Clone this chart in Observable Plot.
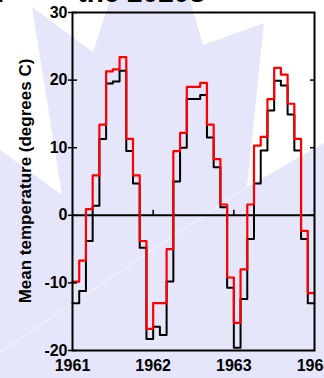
<!DOCTYPE html>
<html><head><meta charset="utf-8">
<script src="https://cdn.jsdelivr.net/npm/d3@7"></script>
<script src="https://cdn.jsdelivr.net/npm/@observablehq/plot@0.6"></script>
<style>
html,body{margin:0;padding:0;background:#fff;width:324px;height:378px;overflow:hidden;}
#wrap{position:relative;width:324px;height:378px;overflow:hidden;}
#bg{position:absolute;left:0;top:0;}
#chart{position:absolute;left:0;top:0;}
#title{position:absolute;left:-30px;top:-21px;white-space:pre;font:bold 28px "Liberation Sans",Arial,sans-serif;color:#000;line-height:1;}
#ylabel{position:absolute;left:25px;top:181px;transform:translate(-50%,-50%) rotate(-90deg);white-space:nowrap;font:bold 17px "Liberation Sans",Arial,sans-serif;color:#000;line-height:1;}
</style></head><body>
<div id="wrap">
<svg id="bg" width="324" height="378">
  <rect width="324" height="378" fill="#e6e6fa"/>
  <polygon points="0,0 110,0 93,52 32,7 62,195 0,150" fill="#fff"/>
  <polygon points="190,0 203,45 264,23 247,187 324,143 324,0" fill="#fff"/>
  <line x1="0" y1="352" x2="247" y2="187" stroke="#fff" stroke-width="0.8" stroke-opacity="0.7"/>
</svg>
<div id="title"></div>
<div id="chart"></div>
<div id="ylabel"></div>
</div>
<script>
const titleText = "for         the 2020s";
const years = [1961, 1962, 1963, 1964];
const innerYearTicks = [1962, 1963];
const yTicks = [-20, -10, 0, 10, 20, 30];
const rightTicks = [0, 10, 20];
const yLabel = "Mean temperature (degrees C)";
// monthly values, Jan 1961 .. Dec 1963
const observed = [-13.0, -11.2, -3.8, 1.4, 11.3, 19.5, 19.8, 21.4, 9.5, 4.7, -4.8, -18.3,
                  -16.5, -17.7, -9.8, 5.0, 10.0, 17.2, 17.2, 17.8, 11.5, 7.1, 1.2, -10.7,
                  -19.6, -12.4, -3.5, 4.7, 9.6, 15.5, 19.9, 19.2, 14.9, 9.6, -3.5, -13.0];
const modelled = [-9.8, -6.7, 0.9, 5.9, 13.4, 21.3, 21.6, 23.4, 11.3, 5.9, -3.8, -16.8,
                  -13.0, -13.0, -5.0, 9.5, 12.2, 19.0, 19.0, 19.6, 13.4, 8.3, 1.6, -9.2,
                  -15.9, -8.0, 1.6, 10.3, 11.6, 17.2, 21.8, 20.8, 16.5, 11.3, -2.3, -11.5];

document.getElementById("title").textContent = titleText;
document.getElementById("ylabel").textContent = yLabel;

function toSteps(values) {
  const rows = values.map((v, i) => ({x: years[0] + i / 12, y: v}));
  rows.push({x: years[0] + values.length / 12, y: values[values.length - 1]});
  return rows;
}
const obsRows = toSteps(observed);
const modRows = toSteps(modelled);

const chart = Plot.plot({
  width: 324, height: 378,
  marginLeft: 72, marginRight: 10, marginTop: 12, marginBottom: 28,
  x: {domain: [years[0], years[years.length - 1]]},
  y: {domain: [yTicks[0], yTicks[yTicks.length - 1]]},
  style: {fontFamily: "'Liberation Sans', Arial, sans-serif", fontSize: "16px", fontWeight: "bold", background: "transparent", overflow: "visible", color: "#000"},
  marks: [
    Plot.ruleY([0], {stroke: "#000", strokeWidth: 2}),
    Plot.ruleX(innerYearTicks, {y1: 0, y2: 0.75, stroke: "#000", strokeWidth: 1.5}),
    Plot.line(obsRows, {x: "x", y: "y", curve: "step-after", stroke: "#000", strokeWidth: 2}),
    Plot.line(modRows, {x: "x", y: "y", curve: "step-after", stroke: "#ff0000", strokeWidth: 2.2}),
    Plot.frame({stroke: "#000", strokeWidth: 2}),
    Plot.axisY(yTicks, {anchor: "left", tickSize: 4, tickPadding: 1, tickFormat: d => String(d), label: null, strokeWidth: 1.5}),
    Plot.axisY(yTicks, {anchor: "left", tickSize: -5, tickFormat: () => "", label: null, strokeWidth: 1.5}),
    Plot.axisY(rightTicks, {anchor: "right", tickSize: -5, tickFormat: () => "", label: null, strokeWidth: 1.5}),
    Plot.axisX(years, {anchor: "bottom", tickSize: 0, tickPadding: 9, tickFormat: d => String(d), label: null})
  ]
});
document.getElementById("chart").appendChild(chart);
</script>
</body></html>
